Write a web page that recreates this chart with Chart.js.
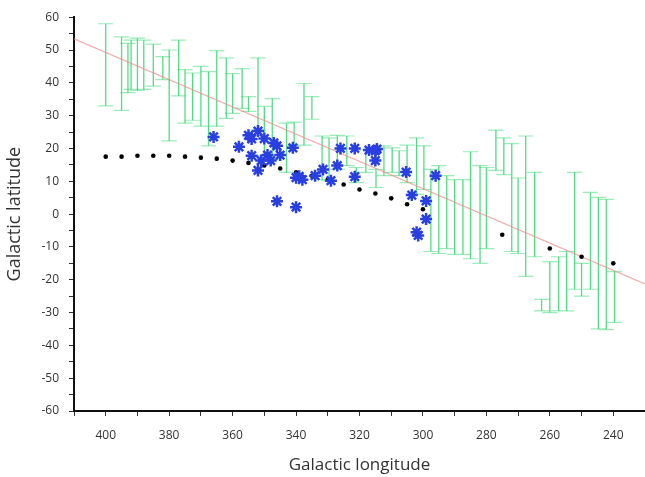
<!DOCTYPE html>
<html>
<head>
<meta charset="utf-8">
<script src="https://cdn.jsdelivr.net/npm/chart.js@4"></script>
<style>
html, body { margin: 0; padding: 0; background: #fff; }
#wrap { width: 645px; height: 477px; }
</style>
</head>
<body>
<div id="wrap"><canvas id="chart"></canvas></div>
<script>
// green error bars: longitude, lower and upper latitude
const errLon  = [400, 395, 393, 392, 390, 388, 385, 382, 380, 377, 375, 372.6, 370, 367.6, 365, 362, 360, 357, 355, 352, 350, 347.5, 343, 340.6, 337.5, 335, 331.8, 329.6, 327, 324, 321, 318, 314.8, 312.3, 309.7, 307.5, 305, 302, 299.7, 297.5, 295, 292.5, 290, 287.4, 285, 282, 280, 277, 274.5, 272, 270, 267.6, 264.8, 262.6, 260, 257.2, 254.7, 252.2, 250, 247.2, 244.7, 242.2, 239.6];
const errLow  = [33, 31.6, 37, 38, 37.7, 38, 39, 41, 22.3, 36, 27.7, 28.6, 26.8, 20.8, 26.8, 29.2, 30.7, 32.2, 31.3, 25.6, 17.8, 16.6, 12.7, 20.8, 21, 28.9, 10.5, 10.2, 13.6, 14.8, 9.6, 12.7, 8.1, 11.7, 12.7, 11.7, 9.6, 6, 7.5, -11.4, -12, -10.5, -12.3, -12.3, -13.6, -15, -10.5, 13.3, 12, -11.4, -12, -19, -13, -29.5, -30, -29.5, -29.5, -22.9, -25, -22.9, -35, -35.2, -33];
const errHigh = [58, 54, 52, 53, 53.6, 53, 51.8, 48, 50, 53, 44, 43, 45, 43.4, 49.8, 47.6, 42.8, 44.3, 35.8, 47.6, 32.8, 35.2, 27.7, 28, 39.8, 35.8, 23.8, 23.2, 24, 23.8, 14.2, 19.6, 13.6, 20.8, 20.2, 19.3, 21, 23.2, 20.8, 13.6, 14.8, 11.7, 10.5, 10.5, 19, 14.8, 14.2, 25.6, 23.2, 21.5, 11, 23.8, 12.7, -26, -14.5, -13, -11.4, 12.7, -15, 6.6, 5.1, 4.5, -17.5];

// black dots
const modelLon = [400, 395, 390, 385, 380, 375, 370, 365, 360, 355, 350, 345, 340, 335, 330, 325, 320, 315, 310, 305, 300, 275, 260, 250, 240];
const modelLat = [17.5, 17.5, 17.8, 17.8, 17.8, 17.5, 17.2, 16.9, 16.3, 15.6, 14.8, 13.9, 12.7, 11.7, 10.5, 9.0, 7.5, 6.3, 4.8, 3.0, 1.5, -6.3, -10.5, -13, -15];

// blue stars
const starLon = [366, 358, 354, 352, 350, 347, 346, 341, 354, 351, 352, 348, 345, 340, 339, 346, 340, 338, 334, 331.5, 329, 327, 326, 321.5, 321.5, 317, 315, 314.5, 315, 305.3, 303.5, 299, 299, 302, 301.5, 296, 355, 349];
const starLat = [23.5, 20.5, 22.9, 25.3, 23, 21.7, 20.8, 20.2, 17.8, 16.3, 13.3, 16.3, 18, 11.1, 11.5, 3.9, 2.1, 10.5, 11.7, 13.6, 10.2, 14.8, 20, 20, 11.4, 19.5, 19.3, 19.8, 16.3, 12.8, 5.8, 4, -1.5, -5.5, -6.5, 11.7, 24, 18];

// red fit line
const fitLon = [410, 230];
const fitLat = [53.4, -21.3];

const xTickLabels = [400, 380, 360, 340, 320, 300, 280, 260, 240];
const yTickLabels = [60, 50, 40, 30, 20, 10, 0, -10, -20, -30, -40, -50, -60];

const CAP = 2.4; // half width of an error bar cap, in longitude units
const stems = [], caps = [];
errLon.forEach((lon, i) => {
    stems.push({ x: lon, y: errLow[i] }, { x: lon, y: errHigh[i] }, { x: lon, y: null });
    caps.push({ x: lon - CAP, y: errLow[i] }, { x: lon + CAP, y: errLow[i] }, { x: lon, y: null });
    caps.push({ x: lon - CAP, y: errHigh[i] }, { x: lon + CAP, y: errHigh[i] }, { x: lon, y: null });
});

const font = { family: '"Open Sans", sans-serif', size: 12 };
const titleFont = { family: '"Open Sans", sans-serif', size: 17 };

new Chart(document.getElementById('chart'), {
    type: 'scatter',
    data: {
        datasets: [
            {
                data: caps, showLine: true, pointRadius: 0,
                borderColor: 'rgba(120,230,160,0.75)', borderWidth: 1.2, order: 5
            },
            {
                data: stems, showLine: true, pointRadius: 0,
                borderColor: 'rgba(50,215,110,0.85)', borderWidth: 1.3, order: 4
            },
            {
                data: fitLon.map((x, i) => ({ x, y: fitLat[i] })), showLine: true, pointRadius: 0,
                borderColor: 'rgba(235,140,140,0.7)', borderWidth: 1.3, order: 3
            },
            {
                data: modelLon.map((x, i) => ({ x, y: modelLat[i] })),
                pointRadius: 2.3, backgroundColor: '#000', borderColor: '#000', borderWidth: 0, order: 2
            },
            {
                data: starLon.map((x, i) => ({ x, y: starLat[i] })),
                pointStyle: 'star', pointRadius: 6, borderColor: '#2a3fe0', backgroundColor: '#2a3fe0',
                borderWidth: 2.5, order: 1
            }
        ]
    },
    options: {
        responsive: true,
        maintainAspectRatio: false,
        animation: false,
        layout: { autoPadding: false, padding: { top: 13, right: 0, left: 0, bottom: 0 } },
        plugins: { legend: { display: false }, tooltip: { enabled: false } },
        scales: {
            x: {
                type: 'linear', reverse: true, min: 230, max: 410,
                afterFit: (s) => { s.height = 66; s.paddingLeft = 0; s.paddingRight = 0; },
                ticks: {
                    stepSize: 10, autoSkip: false, maxRotation: 0, padding: 12,
                    color: '#333', font,
                    callback: (v) => xTickLabels.includes(v) ? String(v) : ''
                },
                grid: { drawOnChartArea: false, drawTicks: true, tickLength: 5, tickColor: '#333' },
                border: { color: '#111', width: 2 },
                title: { display: true, text: 'Galactic longitude', color: '#333', font: titleFont, padding: { top: 0, bottom: 2 } }
            },
            y: {
                min: -60, max: 60,
                afterFit: (s) => { s.width = 74; },
                ticks: {
                    stepSize: 5, autoSkip: false, padding: 10,
                    color: '#333', font,
                    callback: (v) => yTickLabels.includes(v) ? String(v) : ''
                },
                grid: { drawOnChartArea: false, drawTicks: true, tickLength: 5, tickColor: '#333' },
                border: { color: '#111', width: 2 },
                title: { display: true, text: 'Galactic latitude', color: '#333', font: { family: '"Open Sans", sans-serif', size: 18 }, padding: { top: 4, bottom: 0 } }
            }
        }
    }
});
</script>
</body>
</html>
